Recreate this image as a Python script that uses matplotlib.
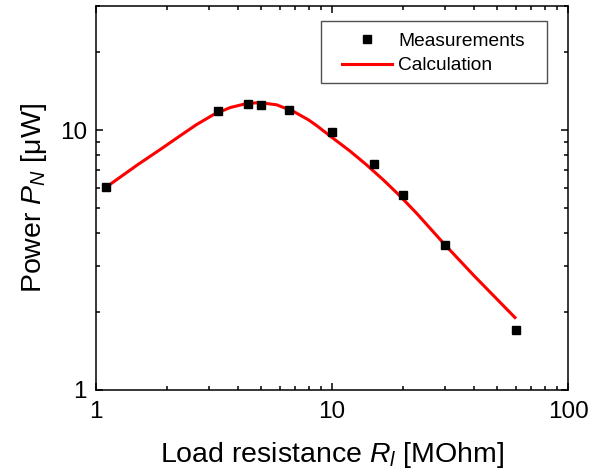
import matplotlib
matplotlib.use("Agg")
import matplotlib.pyplot as plt
from matplotlib.patches import Rectangle
from matplotlib.ticker import LogLocator, NullFormatter, FuncFormatter

plt.rcParams['font.family'] = ['Liberation Sans', 'DejaVu Sans']
plt.rcParams['mathtext.fontset'] = 'custom'
plt.rcParams['mathtext.rm'] = 'Liberation Sans'
plt.rcParams['mathtext.it'] = 'Liberation Sans:italic'

# Measurements
meas_R = [1.1, 3.3, 4.4, 5.0, 6.6, 10, 15, 20, 30, 60]
meas_P = [6.05, 11.8, 12.6, 12.5, 11.9, 9.8, 7.4, 5.6, 3.6, 1.7]

# Calculation
calc_R = [1.11, 1.50, 1.92, 2.27, 2.67, 3.14, 3.70, 4.35, 4.95, 5.83, 6.86, 7.94,
          8.61, 10.1, 11.9, 14.0, 16.5, 19.4, 22.9, 29.6, 40.0, 59.6]
calc_P = [6.05, 7.35, 8.55, 9.50, 10.5, 11.45, 12.2, 12.65, 12.75, 12.5, 11.8, 10.95,
          10.4, 9.30, 8.31, 7.35, 6.43, 5.58, 4.77, 3.68, 2.75, 1.90]

fig = plt.figure(figsize=(5.89, 4.76), dpi=100)
ax = fig.add_axes([96/589, 86/476, (568-96)/589, (390-6)/476])

ax.plot(meas_R, meas_P, linestyle='none', marker='s', color='black',
        markersize=5.2, label='Measurements', zorder=3)
ax.plot(calc_R, calc_P, color='#ff0000', linewidth=2.2, label='Calculation', zorder=2)

ax.set_xscale('log')
ax.set_yscale('log')
ax.set_xlim(1, 100)
ax.set_ylim(1, 30)

fmt = FuncFormatter(lambda v, p: f"{v:g}")
for axis in (ax.xaxis, ax.yaxis):
    axis.set_major_locator(LogLocator(base=10))
    axis.set_minor_locator(LogLocator(base=10, subs=range(2, 10)))
    axis.set_major_formatter(fmt)
    axis.set_minor_formatter(NullFormatter())

ax.tick_params(which='both', direction='in', top=True, right=True, width=1.1)
ax.tick_params(which='major', length=5, labelsize=17.5)
ax.tick_params(axis='x', which='major', pad=8)
ax.tick_params(axis='y', which='major', pad=6.5)
ax.tick_params(which='minor', length=3)
for s in ax.spines.values():
    s.set_linewidth(1.1)

ax.set_xlabel(r'Load resistance $\mathit{R}_{\mathit{l}}$ [MOhm]', fontsize=20.5, labelpad=12)
ax.set_ylabel(r'Power $\mathit{P}_{\mathit{N}}$ [μW]', fontsize=20.5, labelpad=8)

# legend frame
ax.add_patch(Rectangle(((321-96)/472, (390-82.5)/384), (547-321)/472, (82.5-20.7)/384,
                       transform=ax.transAxes, facecolor='white', edgecolor='#505050',
                       linewidth=1.0, zorder=4))
leg = ax.legend(loc='upper left', bbox_to_anchor=(342/589, (476-32.5)/476),
                bbox_transform=fig.transFigure, fontsize=13.8, frameon=False,
                handlelength=2.6, handletextpad=0.32, borderpad=0, borderaxespad=0,
                labelspacing=0.36)
leg.set_zorder(5)

fig.savefig('out.png', dpi=100)
